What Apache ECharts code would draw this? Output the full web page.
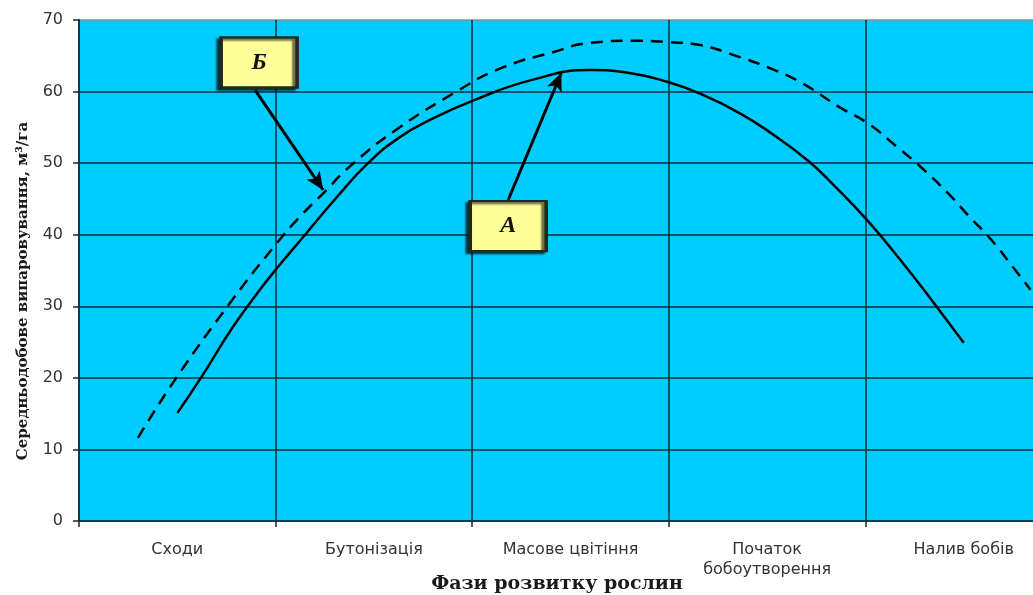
<!DOCTYPE html>
<html>
<head>
<meta charset="utf-8">
<script src="https://cdn.jsdelivr.net/npm/echarts@6/dist/echarts.min.js"></script>
<style>
html,body{margin:0;padding:0;background:#fff;overflow:hidden;width:1033px;height:595px;}
#chart{width:1070px;height:595px;}
</style>
</head>
<body>
<div id="chart"></div>
<script>
// Categories (growth phases)
const categories = ['Сходи', 'Бутонізація', 'Масове цвітіння', 'Початок\nбобоутворення', 'Налив бобів'];
const yTicks = [0, 10, 20, 30, 40, 50, 60, 70];
// Curve A (solid) : [position along phase axis (0..5), value m³/ha]
const seriesA = [
  [0.50, 15.1], [0.62, 20.0], [0.78, 27.0], [0.92, 32.3], [1.00, 35.1], [1.15, 40.0],
  [1.31, 45.2], [1.47, 50.0], [1.63, 53.6], [1.79, 56.1], [2.01, 58.8], [2.30, 61.6],
  [2.60, 63.0], [2.80, 62.6], [3.00, 61.3], [3.16, 59.7], [3.36, 57.0], [3.53, 54.0],
  [3.71, 50.3], [3.84, 46.9], [4.01, 42.0], [4.18, 36.4], [4.35, 30.4], [4.50, 24.9]
];
// Curve Б (dashed)
const seriesB = [
  [0.30, 11.6], [0.48, 19.4], [0.78, 30.9], [1.00, 38.6], [1.12, 42.4], [1.25, 46.0],
  [1.38, 49.6], [1.61, 54.6], [1.92, 60.0], [2.14, 63.2], [2.41, 65.5], [2.60, 66.8],
  [2.82, 67.1], [3.00, 66.9], [3.16, 66.5], [3.33, 65.1], [3.52, 63.2], [3.67, 61.3],
  [3.87, 57.8], [4.01, 55.6], [4.16, 52.3], [4.28, 49.5], [4.42, 45.8], [4.53, 42.5],
  [4.64, 39.3], [4.75, 35.5], [4.84, 32.3]
];
// Annotation labels: box centre and arrow (from -> to), in data coordinates
const labelA = {text: 'А', box: [2.183, 41.2], arrowFrom: [2.183, 44.85], arrowTo: [2.453, 62.6]};
const labelB = {text: 'Б', box: [0.916, 64.06], arrowFrom: [0.896, 60.2], arrowTo: [1.242, 46.25]};

const chart = echarts.init(document.getElementById('chart'));
const gridColor = '#0b2c38';
const boxStyle = {
  color: '#FFFF99', borderColor: '#1d2a22', borderWidth: 3,
  shadowColor: 'rgba(0,0,0,0.6)', shadowBlur: 2, shadowOffsetX: -3, shadowOffsetY: 2
};
const boxLabel = {
  show: true, fontFamily: 'Liberation Serif', fontStyle: 'italic', fontWeight: 'bold',
  fontSize: 24, color: '#111'
};
function arrow(l) {
  return [{coord: l.arrowFrom, symbol: 'none'}, {coord: l.arrowTo, symbol: 'arrow'}];
}
chart.setOption({
  animation: false,
  backgroundColor: '#ffffff',
  grid: {left: 79, right: 8, top: 20, bottom: 74, show: true, backgroundColor: '#00CCFF', borderWidth: 0},
  xAxis: [{
    type: 'category', data: categories, boundaryGap: true,
    axisLine: {lineStyle: {color: '#0d3b4f', width: 2}},
    axisTick: {show: true, length: 6, lineStyle: {color: '#222', width: 1.5}},
    axisLabel: {fontFamily: 'DejaVu Sans', fontSize: 16, color: '#333', margin: 19, lineHeight: 20},
    splitLine: {show: true, lineStyle: {color: gridColor, width: 1.5}}
  }, {
    type: 'value', min: 0, max: 5, show: false
  }],
  yAxis: {
    type: 'value', min: yTicks[0], max: yTicks[yTicks.length - 1], interval: 10,
    axisLine: {show: true, lineStyle: {color: '#0d3b4f', width: 2}},
    axisTick: {show: true, length: 6, lineStyle: {color: '#222', width: 1.5}},
    axisLabel: {fontFamily: 'DejaVu Sans', fontSize: 16, color: '#333', margin: 16},
    splitLine: {show: true, lineStyle: {color: [gridColor, gridColor, gridColor, gridColor, gridColor, gridColor, gridColor, '#8a8a8a'], width: 1.5}}
  },
  graphic: [{
    type: 'text', rotation: Math.PI / 2,
    x: 23, y: 291,
    style: {
      text: 'Середньодобове випаровування, м³/га', fontFamily: 'DejaVu Serif',
      fontWeight: 'bold', fontSize: 15, fill: '#1a1a1a', textAlign: 'center', textVerticalAlign: 'middle'
    }
  }, {
    type: 'text', x: 557, y: 584,
    style: {
      text: 'Фази розвитку рослин', fontFamily: 'DejaVu Serif', fontWeight: 'bold',
      fontSize: 19, fill: '#1a1a1a', textAlign: 'center', textVerticalAlign: 'middle'
    }
  }],
  series: [{
    name: 'А', type: 'line', xAxisIndex: 1, data: seriesA, smooth: true, showSymbol: false,
    lineStyle: {color: '#000', width: 2.5}, z: 3,
    markLine: {
      silent: true, symbolSize: [12, 18], animation: false,
      lineStyle: {color: '#000', width: 3, type: 'solid'}, label: {show: false},
      data: [arrow(labelA), arrow(labelB)]
    }
  }, {
    name: 'Б', type: 'line', xAxisIndex: 1, data: seriesB, smooth: true, showSymbol: false,
    lineStyle: {color: '#000', width: 2.5, type: [12, 8]}, z: 3,
    markPoint: {
      silent: true, symbol: 'rect', symbolSize: [76, 50], animation: false,
      itemStyle: boxStyle, label: boxLabel,
      data: [
        {coord: labelA.box, value: labelA.text, label: {formatter: labelA.text}},
        {coord: labelB.box, value: labelB.text, label: {formatter: labelB.text}}
      ]
    }
  }]
});
</script>
</body>
</html>
